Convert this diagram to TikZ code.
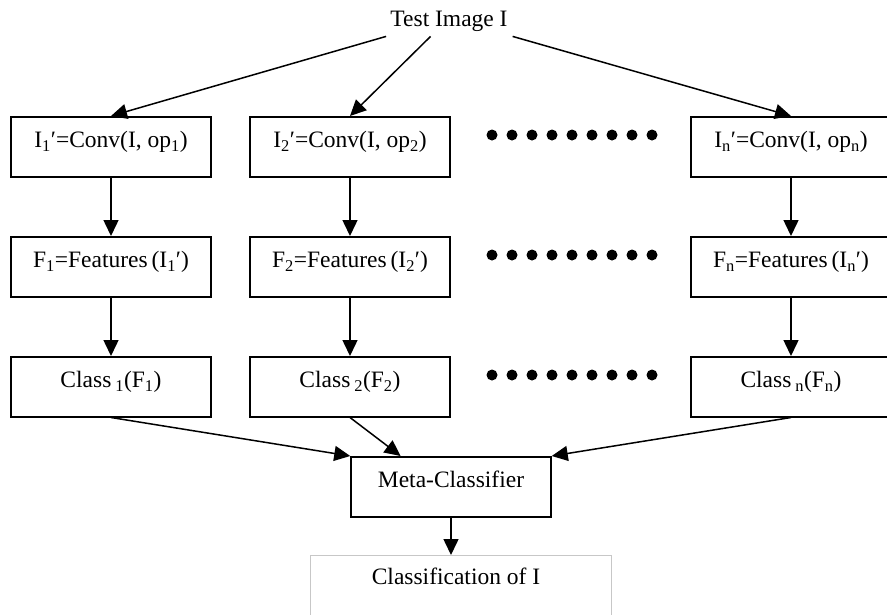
\documentclass[tikz,border=0pt]{standalone}
\usepackage{fontspec}
\setmainfont{Liberation Serif}
\usetikzlibrary{arrows.meta,calc}
\begin{document}
\begin{tikzpicture}[x=1pt,y=-1pt,
  lbl/.style={font=\fontsize{23.5}{27}\selectfont},
  box/.style={lbl, draw, line width=1.5pt, minimum width=200pt, minimum height=60pt,
    text height=31pt, text depth=29pt, inner ysep=0pt, inner xsep=0pt, anchor=north},
  arr/.style={line width=1.5pt, -{Triangle[length=16pt,width=15pt]}},
  dotm/.style={circle, fill, inner sep=0pt, minimum size=11pt}]
\path[use as bounding box, clip] (0,0) rectangle (887,614);
\fill[white] (0,0) rectangle (887,614);

\node[lbl, text height=26pt, text depth=10pt, inner ysep=0pt, inner xsep=8pt, anchor=north] (title) at (449,0) {Test Image I};

\node[box] (c1) at (111,116) {I\textsubscript{1}′=Conv(I, op\textsubscript{1})};
\node[box] (c2) at (350,116) {I\textsubscript{2}′=Conv(I, op\textsubscript{2})};
\node[box] (cn) at (791,116) {I\textsubscript{n}′=Conv(I, op\textsubscript{n})};

\node[box] (f1) at (111,236) {F\textsubscript{1}=Features\,(I\textsubscript{1}′)};
\node[box] (f2) at (350,236) {F\textsubscript{2}=Features\,(I\textsubscript{2}′)};
\node[box] (fn) at (791,236) {F\textsubscript{n}=Features\,(I\textsubscript{n}′)};

\node[box] (k1) at (111,356) {Class\,\textsubscript{1}(F\textsubscript{1})};
\node[box] (k2) at (350,356) {Class\,\textsubscript{2}(F\textsubscript{2})};
\node[box] (kn) at (791,356) {Class\,\textsubscript{n}(F\textsubscript{n})};

\node[box] (meta) at (451,456) {Meta-Classifier};
\node[draw=black!22, line width=0.8pt, minimum width=301pt, minimum height=80pt, inner sep=0pt, anchor=north] (cls) at (460.5,555) {};
\node[lbl, anchor=base, inner sep=0pt] (clstext) at (456,584) {Classification of I};

\foreach \r/\y in {a/135, b/255, c/375}{
  \foreach \k in {0,...,8}{
    \node[dotm] (d\r\k) at ({492+20*\k},\y) {};
  }
}

\draw[arr] (title) -- (c1.north);
\draw[arr] (title) -- (c2.north);
\draw[arr] (title) -- (cn.north);
\draw[arr] (c1) -- (f1);
\draw[arr] (c2) -- (f2);
\draw[arr] (cn) -- (fn);
\draw[arr] (f1) -- (k1);
\draw[arr] (f2) -- (k2);
\draw[arr] (fn) -- (kn);
\coordinate (mtarget) at ($(meta.north west)!0.25!(meta.north east)$);
\draw[arr] (k1.south) -- (meta.north west);
\draw[arr] (k2.south) -- (mtarget);
\draw[arr] (kn.south) -- (meta.north east);
\draw[arr] (meta.south) -- (meta.south |- cls.north);
\end{tikzpicture}
\end{document}
